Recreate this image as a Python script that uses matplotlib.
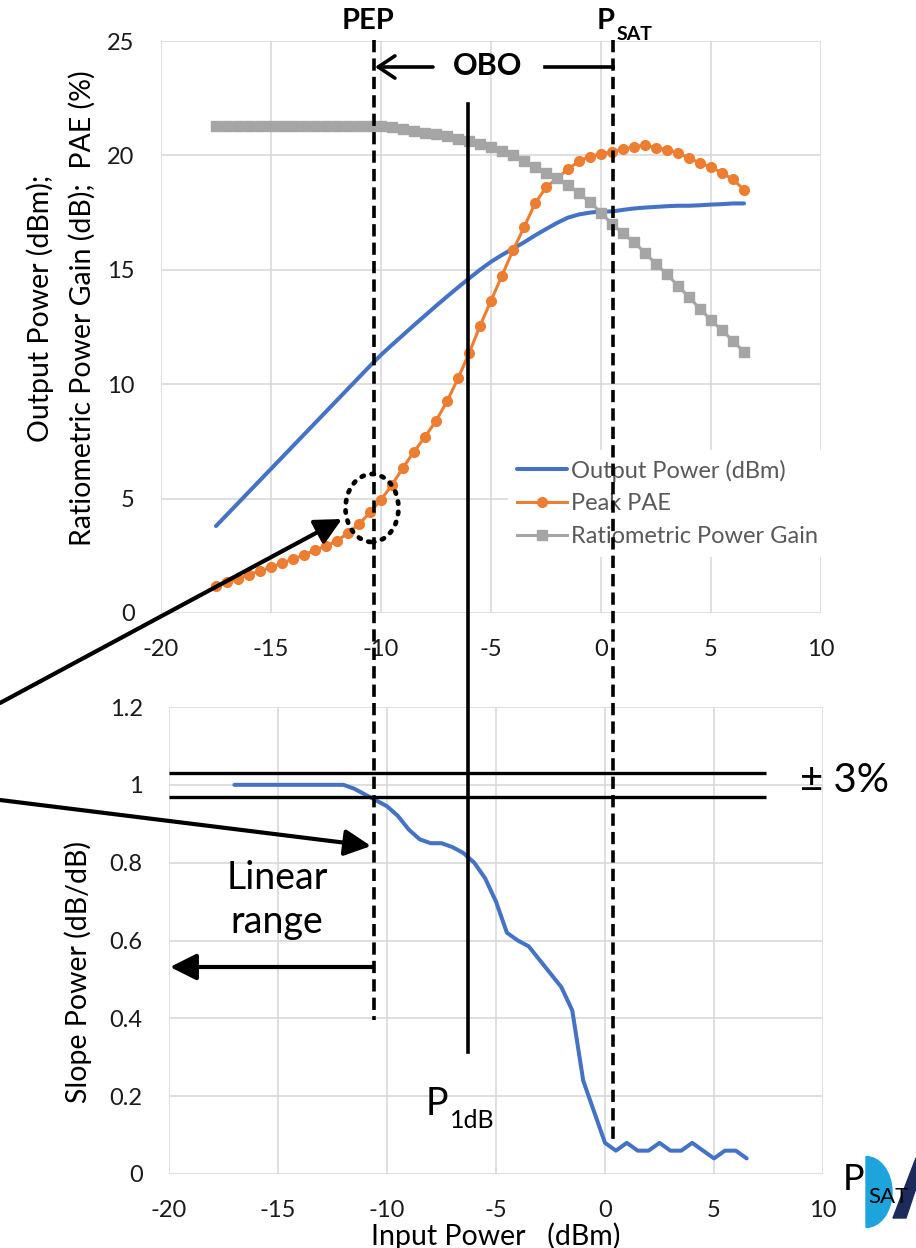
import matplotlib.pyplot as plt
from matplotlib.lines import Line2D
from matplotlib.patches import Ellipse, FancyArrowPatch, Wedge, Polygon

# input power sweep (dBm), 0.5 dB steps
pin = [-17.5, -17, -16.5, -16, -15.5, -15, -14.5, -14, -13.5, -13, -12.5, -12,
       -11.5, -11, -10.5, -10, -9.5, -9, -8.5, -8, -7.5, -7, -6.5, -6, -5.5, -5,
       -4.5, -4, -3.5, -3, -2.5, -2, -1.5, -1, -0.5, 0, 0.5, 1, 1.5, 2, 2.5, 3,
       3.5, 4, 4.5, 5, 5.5, 6, 6.5]
pout = [3.8, 4.3, 4.8, 5.3, 5.8, 6.3, 6.8, 7.3, 7.8, 8.3, 8.8, 9.3,
        9.8, 10.3, 10.8, 11.28, 11.72, 12.15, 12.58, 13.0, 13.42, 13.83, 14.23, 14.62, 15.0, 15.35,
        15.65, 15.92, 16.2, 16.5, 16.78, 17.05, 17.28, 17.42, 17.5, 17.55, 17.55, 17.62, 17.68, 17.72, 17.75, 17.78,
        17.8, 17.8, 17.82, 17.85, 17.87, 17.9, 17.9]
pae = [1.2, 1.35, 1.5, 1.67, 1.84, 2.0, 2.18, 2.36, 2.53, 2.75, 2.93, 3.15,
       3.5, 3.88, 4.4, 4.95, 5.6, 6.35, 7.05, 7.7, 8.4, 9.25, 10.25, 11.35, 12.55, 13.65,
       14.75, 15.85, 16.85, 17.9, 18.6, 19.0, 19.4, 19.75, 19.95, 20.07, 20.15, 20.28, 20.38, 20.45, 20.33, 20.25,
       20.1, 19.9, 19.65, 19.5, 19.23, 18.95, 18.5]
gain = [21.3, 21.3, 21.3, 21.3, 21.3, 21.3, 21.3, 21.3, 21.3, 21.3, 21.3, 21.3,
        21.3, 21.3, 21.3, 21.28, 21.22, 21.15, 21.08, 21.0, 20.92, 20.83, 20.73, 20.62, 20.5, 20.37,
        20.2, 20.0, 19.75, 19.5, 19.25, 19.0, 18.7, 18.35, 17.95, 17.5, 17.0, 16.6, 16.2, 15.75, 15.25, 14.8,
        14.3, 13.8, 13.3, 12.8, 12.35, 11.9, 11.4]

# slope of output vs input power (dB/dB)
slope_x = [-17, -16.5, -16, -15.5, -15, -14.5, -14, -13.5, -13, -12.5, -12,
           -11.5, -11, -10.5, -10, -9.5, -9, -8.5, -8, -7.5, -7, -6.5, -6, -5.5, -5,
           -4.5, -4, -3.5, -3, -2.5, -2, -1.5, -1, -0.5, 0, 0.5, 1, 1.5, 2, 2.5, 3,
           3.5, 4, 4.5, 5, 5.5, 6, 6.5]
slope = [1.0, 1.0, 1.0, 1.0, 1.0, 1.0, 1.0, 1.0, 1.0, 1.0, 1.0,
         0.99, 0.975, 0.96, 0.945, 0.92, 0.885, 0.86, 0.85, 0.85, 0.84, 0.825, 0.8, 0.76, 0.70,
         0.62, 0.60, 0.585, 0.55, 0.515, 0.48, 0.42, 0.24, 0.16, 0.08, 0.06, 0.08, 0.06, 0.06, 0.08, 0.06,
         0.06, 0.08, 0.06, 0.04, 0.06, 0.06, 0.04]
tol = [0.97, 1.03]

W, H = 916, 1248
plt.rcParams['font.family'] = ['Lato', 'DejaVu Sans']
plt.rcParams['axes.unicode_minus'] = False

fig = plt.figure(figsize=(W / 100, H / 100), dpi=100)


def fx(x):
    return x / W


def fy(y):
    return 1 - y / H


ax1 = fig.add_axes([fx(161), fy(613), (821 - 161) / W, (613 - 41) / H])
ax2 = fig.add_axes([fx(169), fy(1174), (823 - 169) / W, (1174 - 707) / H])

for ax in (ax1, ax2):
    for s in ax.spines.values():
        s.set_visible(False)
    ax.grid(color='#d9d9d9', lw=1.2)
    ax.set_axisbelow(True)
    ax.tick_params(length=0, pad=19, labelsize=17, labelcolor='#1a1a1a')
    ax.set_xlim(-20, 10)
    ax.set_xticks([-20, -15, -10, -5, 0, 5, 10])

# top chart
ax1.set_ylim(0, 25)
ax1.set_yticks([0, 5, 10, 15, 20, 25])
ax1.plot(pin, pout, color='#4472C4', lw=2.9, solid_capstyle='round', label='Output Power (dBm)')
ax1.plot(pin, pae, color='#ED7D31', lw=2.2, marker='o', ms=7, label='Peak PAE')
ax1.plot(pin, gain, color='#A5A5A5', lw=2.2, marker='s', ms=7, label='Ratiometric Power Gain')
leg = ax1.legend(loc='upper left', bbox_to_anchor=(0.525, 0.285), fontsize=17,
                 frameon=True, facecolor='white', edgecolor='none', framealpha=1,
                 labelcolor='#595959', handlelength=2.1, handletextpad=0.2,
                 labelspacing=0.5, borderpad=0.4, borderaxespad=0)

# bottom chart
ax2.set_ylim(0, 1.2)
ax2.set_yticks([0, 0.2, 0.4, 0.6, 0.8, 1.0, 1.2])
ax2.set_yticklabels(['0', '0.2', '0.4', '0.6', '0.8', '1', '1.2'])
ax2.plot(slope_x, slope, color='#4472C4', lw=2.9, solid_capstyle='round')
ax2.hlines(tol, -20, 7.4, color='black', lw=2.4)

# axis titles
fig.text(fx(40), fy(308), 'Output Power (dBm);', rotation=90, ha='center', va='center', fontsize=20.5)
fig.text(fx(82), fy(308), 'Ratiometric Power Gain (dB);  PAE (%)', rotation=90, ha='center', va='center', fontsize=20.5)
fig.text(fx(78), fy(972), 'Slope Power (dB/dB)', rotation=90, ha='center', va='center', fontsize=20.5)
fig.text(fx(496), fy(1236), 'Input Power   (dBm)', ha='center', va='center', fontsize=20.5)


def vline(x, y0, y1, **kw):
    fig.add_artist(Line2D([fx(x), fx(x)], [fy(y0), fy(y1)], transform=fig.transFigure, **kw))


def arrow(p0, p1, style, **kw):
    fig.add_artist(FancyArrowPatch((fx(p0[0]), fy(p0[1])), (fx(p1[0]), fy(p1[1])),
                                   transform=fig.transFigure, arrowstyle=style, mutation_scale=20,
                                   color='black', shrinkA=0, shrinkB=0, **kw))


# PEP, PSAT, P1dB markers
vline(374, 40, 1020, color='black', lw=2.6, dashes=(3.4, 1.7))
vline(613, 40, 1143, color='black', lw=2.6, dashes=(3.4, 1.7))
vline(468, 104, 1052, color='black', lw=2.6)

fig.text(fx(368), fy(21), 'PEP', ha='center', va='center', fontsize=21, fontweight='bold')
fig.text(fx(606), fy(21), 'P', ha='center', va='center', fontsize=21, fontweight='bold')
fig.text(fx(635), fy(34), 'SAT', ha='center', va='center', fontsize=14, fontweight='bold')

# OBO
arrow((433, 67), (375, 67), '->,head_length=0.6,head_width=0.4', lw=2.6)
fig.add_artist(Line2D([fx(545), fx(613)], [fy(67), fy(67)], transform=fig.transFigure, color='black', lw=2.6))
fig.text(fx(488), fy(66), 'OBO', ha='center', va='center', fontsize=22, fontweight='bold')

# dotted ring around PEP point
fig.add_artist(Ellipse((fx(372), fy(508)), 53 / W, 68 / H, transform=fig.transFigure,
                       fill=False, ec='black', lw=3.4, ls=(0, (0.5, 1.7)), capstyle='round'))

# pointer arrows
arrow((0, 703), (342, 519), '-|>,head_length=0.8,head_width=0.4', lw=3)
arrow((0, 800), (371, 846), '-|>,head_length=0.8,head_width=0.4', lw=3)
arrow((373, 967), (170, 967), '-|>,head_length=0.8,head_width=0.4', lw=3)

fig.text(fx(277), fy(900), 'Linear\nrange', ha='center', va='center', fontsize=27, linespacing=1.25)
fig.text(fx(844), fy(780), '± 3%', ha='center', va='center', fontsize=29)
fig.text(fx(437), fy(1104), 'P', ha='center', va='center', fontsize=27)
fig.text(fx(472), fy(1120), '1dB', ha='center', va='center', fontsize=18)

# corner logo + label
fig.add_artist(Wedge((fx(866), fy(1192)), 26 / W, -90, 90, transform=fig.transFigure,
                     color='#1fa3dc', zorder=3))
fig.add_artist(Polygon([(fx(893), fy(1218)), (fx(906), fy(1218)), (fx(916), fy(1188)), (fx(916), fy(1158))],
                       closed=True, transform=fig.transFigure, color='#1c2a5c', zorder=3))
fig.text(fx(854), fy(1180), 'P', ha='center', va='center', fontsize=26, zorder=5)
fig.text(fx(888), fy(1197), 'SAT', ha='center', va='center', fontsize=16, zorder=5)

fig.savefig('out.png', dpi=100)
